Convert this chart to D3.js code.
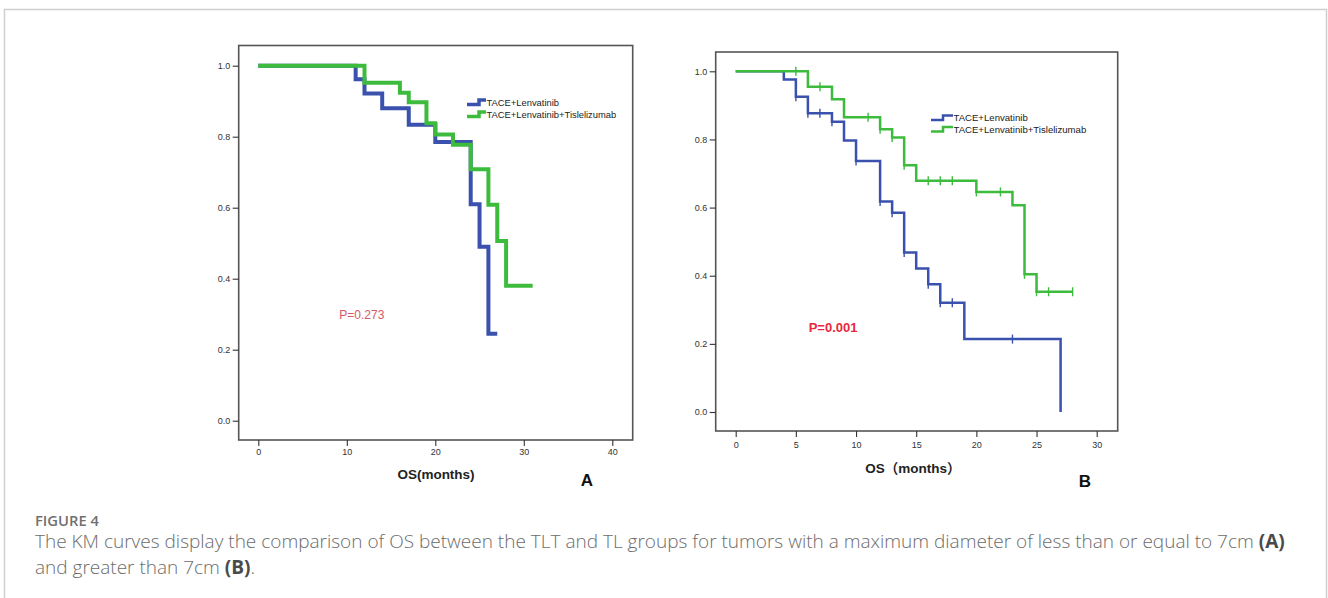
<!DOCTYPE html>
<html><head><meta charset="utf-8">
<script src="https://cdn.jsdelivr.net/npm/d3@7"></script>
<style>html,body{margin:0;padding:0;background:#fff;}svg{display:block;}</style>
</head><body>
<svg id="chart" width="1328" height="598"></svg>
<script>
// ---------- DATA ----------
const seriesNames = ["TACE+Lenvatinib", "TACE+Lenvatinib+Tislelizumab"];
// Panel A (<= 7cm)
const aTicksX = [0, 10, 20, 30, 40];
const aTicksY = [0.0, 0.2, 0.4, 0.6, 0.8, 1.0];
const aBlueTimes = [0, 11, 12, 14, 17, 20, 24, 25, 26];
const aBlueSurv  = [1.0, 0.962, 0.922, 0.880, 0.834, 0.785, 0.610, 0.490, 0.245];
const aBlueEnd = 27;
const aGreenTimes = [0, 12, 16, 17, 19, 20, 22, 24, 26, 27, 28];
const aGreenSurv  = [1.0, 0.952, 0.924, 0.897, 0.838, 0.806, 0.777, 0.708, 0.608, 0.506, 0.380];
const aGreenEnd = 31;
const aPValue = "P=0.273";
// Panel B (> 7cm)
const bTicksX = [0, 5, 10, 15, 20, 25, 30];
const bTicksY = [0.0, 0.2, 0.4, 0.6, 0.8, 1.0];
const bBlueTimes = [0, 4, 5, 6, 8, 9, 10, 12, 13, 14, 15, 16, 17, 19, 27];
const bBlueSurv  = [1.0, 0.976, 0.925, 0.877, 0.852, 0.797, 0.737, 0.618, 0.585, 0.468, 0.421, 0.375, 0.321, 0.214, 0.0];
const bBlueEnd = 27;
const bBlueCensor = [5, 6, 7, 8, 10, 12, 13, 14, 16, 17, 18, 23];
const bGreenTimes = [0, 6, 8, 9, 12, 13, 14, 15, 20, 23, 24, 25];
const bGreenSurv  = [1.0, 0.955, 0.918, 0.865, 0.830, 0.806, 0.724, 0.679, 0.646, 0.607, 0.404, 0.353];
const bGreenEnd = 28;
const bGreenCensor = [5, 7, 11, 12, 13, 14, 16, 17, 18, 20, 22, 24, 25, 26, 28];
const bPValue = "P=0.001";
const captionLabel = "FIGURE 4";
const captionLine1 = "The KM curves display the comparison of OS between the TLT and TL groups for tumors with a maximum diameter of less than or equal to 7cm ";
const captionLine2 = "and greater than 7cm ";

// ---------- DRAW ----------
const svg = d3.select("#chart");
svg.append("rect").attr("width",1328).attr("height",598).attr("fill","#fff");
// outer figure border
svg.append("path").attr("d","M4.5,620 V9.5 H1326.5 V620").attr("fill","none")
  .attr("stroke","#cfcfcf").attr("stroke-width",1.5);

const BLUE = "#3a51ad", GREEN = "#3dbb3d";

function stepPts(times, surv, end){
  const pts = times.map((t,i)=>[t, surv[i]]);
  pts.push([end, surv[surv.length-1]]);
  return pts;
}
function survAt(times, surv, t){
  let v = surv[0];
  for (let i=0;i<times.length;i++){ if (times[i] <= t) v = surv[i]; }
  return v;
}

function panel(cfg){
  const g = svg.append("g");
  const x = d3.scaleLinear().domain(cfg.xDomain).range(cfg.xRange);
  const y = d3.scaleLinear().domain([0,1]).range(cfg.yRange);
  const f = cfg.frame;
  g.append("rect").attr("x",f[0]).attr("y",f[1]).attr("width",f[2]-f[0]).attr("height",f[3]-f[1])
    .attr("fill","none").attr("stroke","#555").attr("stroke-width",1.6);
  const ya = g.append("g").attr("transform",`translate(${f[0]},0)`)
    .call(d3.axisLeft(y).tickValues(cfg.ticksY).tickFormat(d3.format(".1f")).tickSize(6).tickPadding(2.5));
  const xa = g.append("g").attr("transform",`translate(0,${f[3]})`)
    .call(d3.axisBottom(x).tickValues(cfg.ticksX).tickFormat(d3.format("d")).tickSize(6).tickPadding(cfg.xPad));
  [ya,xa].forEach(a=>{
    a.select(".domain").remove();
    a.selectAll("line").attr("stroke","#333").attr("stroke-width",1.1);
    a.selectAll("text").attr("fill","#333").style("font-family","'Liberation Sans', Arial, sans-serif").style("font-size","9px");
  });
  const line = d3.line().x(d=>x(d[0])).y(d=>y(d[1])).curve(d3.curveStepAfter);
  cfg.series.forEach(s=>{
    g.append("path").datum(stepPts(s.times, s.surv, s.end)).attr("d", line)
      .attr("fill","none").attr("stroke", s.color).attr("stroke-width", cfg.lw)
      .attr("stroke-linejoin","miter").attr("stroke-linecap","butt");
    if (s.censor){
      g.selectAll(null).data(s.censor).enter().append("line")
        .attr("x1",d=>x(d)).attr("x2",d=>x(d))
        .attr("y1",d=>y(survAt(s.times,s.surv,d))-4.5).attr("y2",d=>y(survAt(s.times,s.surv,d))+4.5)
        .attr("stroke", s.color).attr("stroke-width",1.4);
    }
  });
  // legend
  cfg.series.forEach((s,i)=>{
    const ly = cfg.legY[i], lx = cfg.legX;
    g.append("path").attr("d",`M${lx},${ly+2} H${lx+12} V${ly-2.5} H${lx+cfg.legW}`)
      .attr("fill","none").attr("stroke",s.color).attr("stroke-width",cfg.legLw);
    g.append("text").attr("x",lx+cfg.legW+0.5).attr("y",ly).attr("dy","0.35em")
      .style("font-family","'Liberation Sans', Arial, sans-serif").style("font-size",cfg.legFs+"px")
      .attr("fill","#222").text(seriesNames[i]);
  });
  g.append("text").attr("x",cfg.pX).attr("y",cfg.pY).attr("dy","0.35em")
    .style("font-family","'Liberation Sans', Arial, sans-serif").style("font-size",cfg.pFs+"px")
    .style("font-weight",cfg.pBold?"bold":"normal").attr("fill",cfg.pColor).text(cfg.pText);
  g.append("text").attr("x",cfg.titleX).attr("y",cfg.titleY).attr("text-anchor","middle").attr("dy","0.35em")
    .style("font-family","'Liberation Sans', Arial, 'Noto Sans CJK SC', sans-serif").style("font-size","13.5px")
    .style("font-weight","bold").attr("fill","#222").text(cfg.title);
  g.append("text").attr("x",cfg.letterX).attr("y",cfg.letterY).attr("text-anchor","middle").attr("dy","0.35em")
    .style("font-family","'Liberation Sans', Arial, sans-serif").style("font-size","17px")
    .style("font-weight","bold").attr("fill","#111").text(cfg.letter);
}

panel({
  xDomain:[0,40], xRange:[258.3,612.3], yRange:[420.7,65.7], frame:[238.7,45.5,632.7,440],
  ticksX:aTicksX, ticksY:aTicksY, xPad:3, lw:4,
  series:[
    {times:aBlueTimes, surv:aBlueSurv, end:aBlueEnd, color:BLUE},
    {times:aGreenTimes, surv:aGreenSurv, end:aGreenEnd, color:GREEN}
  ],
  legX:467, legW:19, legY:[102.5,114.5], legLw:3.5, legFs:9.4,
  pX:339.3, pY:315, pFs:12, pBold:false, pColor:"#d4576a", pText:aPValue,
  title:"OS(months)", titleX:436, titleY:474, letter:"A", letterX:587, letterY:480.5
});
panel({
  xDomain:[0,30], xRange:[735.7,1096.7], yRange:[412,71.3], frame:[715.7,52,1117.7,431],
  ticksX:bTicksX, ticksY:bTicksY, xPad:4.5, lw:2.5,
  series:[
    {times:bBlueTimes, surv:bBlueSurv, end:bBlueEnd, color:BLUE, censor:bBlueCensor},
    {times:bGreenTimes, surv:bGreenSurv, end:bGreenEnd, color:GREEN, censor:bGreenCensor}
  ],
  legX:931, legW:22, legY:[118,129.5], legLw:2.5, legFs:9.6,
  pX:808.7, pY:327.3, pFs:13, pBold:true, pColor:"#e8283c", pText:bPValue,
  title:"OS（months）", titleX:913, titleY:468, letter:"B", letterX:1085, letterY:481
});

// caption
const capFont = "'Open Sans', 'Noto Sans', sans-serif";
const fig = svg.append("text").attr("x",35).attr("y",521).attr("dy","0.35em")
  .style("font-family",capFont).style("font-size","13px").style("font-weight","600")
  .attr("fill","#707070").text(captionLabel);
const fw = fig.node().getComputedTextLength();
fig.style("font-size",(13*64/fw)+"px");

function capLine(yv, txt, bold, tail, targetW){
  const t = svg.append("text").attr("x",35).attr("y",yv).attr("dy","0.35em")
    .style("font-family",capFont).style("font-size","16px").style("font-weight","300").attr("fill","#6c6c6c");
  t.append("tspan").text(txt);
  t.append("tspan").style("font-weight","bold").attr("fill","#4a4a4a").text(bold);
  if (tail) t.append("tspan").text(tail);
  if (targetW){
    const w = t.node().getComputedTextLength();
    t.style("font-size",(16*targetW/w)+"px");
  }
  return t;
}
const l1 = capLine(541.7, captionLine1, "(A)", null, 1251);
const fs1 = parseFloat(l1.style("font-size"));
const l2 = capLine(567.7, captionLine2, "(B)", ".", null);
l2.style("font-size", fs1+"px");
</script>
</body></html>
